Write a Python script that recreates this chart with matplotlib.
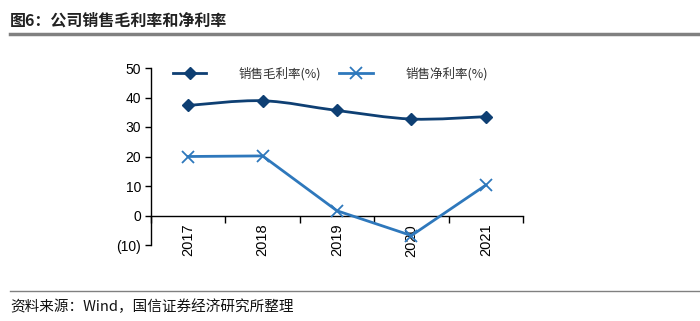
import matplotlib
matplotlib.use('Agg')
import matplotlib.pyplot as plt
from matplotlib.path import Path
from matplotlib.patches import PathPatch
from matplotlib.lines import Line2D

plt.rcParams['font.family'] = ['Noto Sans CJK SC', 'DejaVu Sans']

years = ['2017', '2018', '2019', '2020', '2021']
gross_margin = [37.3, 38.9, 35.6, 32.7, 33.5]
net_margin = [20.0, 20.2, 1.6, -6.8, 10.3]
y_ticks = [-10, 0, 10, 20, 30, 40, 50]
y_labels = ['(10)', '0', '10', '20', '30', '40', '50']

dark = '#0E3F73'
light = '#2E78BC'

fig = plt.figure(figsize=(7, 3.21), dpi=100)
ax = fig.add_axes([151 / 700, 76 / 321, 372 / 700, 177 / 321])

x = list(range(len(years)))


# smooth line like Excel's "smoothed line" (Catmull-Rom -> cubic bezier)
def smooth_path(xs, ys):
    verts = [(xs[0], ys[0])]
    codes = [Path.MOVETO]
    n = len(xs)
    for i in range(n - 1):
        p0 = (xs[max(i - 1, 0)], ys[max(i - 1, 0)])
        p1 = (xs[i], ys[i])
        p2 = (xs[i + 1], ys[i + 1])
        p3 = (xs[min(i + 2, n - 1)], ys[min(i + 2, n - 1)])
        c1 = (p1[0] + (p2[0] - p0[0]) / 6, p1[1] + (p2[1] - p0[1]) / 6)
        c2 = (p2[0] - (p3[0] - p1[0]) / 6, p2[1] - (p3[1] - p1[1]) / 6)
        verts += [c1, c2, p2]
        codes += [Path.CURVE4] * 3
    return Path(verts, codes)


ax.add_patch(PathPatch(smooth_path(x, gross_margin), fill=False,
                       edgecolor=dark, lw=2, zorder=3))
ax.plot(x, gross_margin, ls='none', marker='D', ms=6, color=dark, zorder=4)
ax.plot(x, net_margin, color=light, lw=2, marker='x', ms=8, mew=1.3, zorder=3)

ax.set_xlim(-0.5, 4.5)
ax.set_ylim(-10, 50)
ax.set_yticks(y_ticks)
ax.set_yticklabels(y_labels, family=['Liberation Sans'])
ax.tick_params(axis='y', direction='out', length=4, width=1, labelsize=10,
               pad=3, color='black', labelcolor='black')

ax.spines['top'].set_visible(False)
ax.spines['right'].set_visible(False)
ax.spines['bottom'].set_position(('data', 0))
ax.spines['left'].set_linewidth(1)
ax.spines['bottom'].set_linewidth(1)

ax.set_xticks(x)
ax.set_xticklabels(years, rotation=90, family=['Liberation Sans'])
ax.set_xticks([i + 0.5 for i in range(-1, 5)], minor=True)
ax.tick_params(axis='x', which='major', length=0, labelsize=10.5, pad=6,
               labelcolor='black')
ax.tick_params(axis='x', which='minor', length=5, width=1, direction='out')

handles = [
    Line2D([], [], color=dark, lw=2, marker='D', ms=6),
    Line2D([], [], color=light, lw=2, marker='x', ms=8, mew=1.3),
]
leg = ax.legend(handles, ['销售毛利率(%)', '销售净利率(%)'], ncol=2,
                frameon=False, fontsize=9, handlelength=2.7,
                handletextpad=2.6, columnspacing=1.4,
                loc='center left', bbox_to_anchor=(0.045, 0.97),
                borderaxespad=0)
for t in leg.get_texts():
    t.set_color('#333333')

# title and footer
fig.text(10 / 700, 1 - 21 / 321, '图6：公司销售毛利率和净利率', fontsize=11.5,
         fontweight='bold', color='#222222', va='center', ha='left')
fig.add_artist(Line2D([10 / 700, 1], [1 - 34 / 321] * 2, color='#808080',
                      lw=2.5, transform=fig.transFigure))
fig.add_artist(Line2D([10 / 700, 1], [1 - 291 / 321] * 2, color='#808080',
                      lw=1, transform=fig.transFigure))
fig.text(10 / 700, 1 - 307 / 321, '资料来源：Wind，国信证券经济研究所整理',
         fontsize=10.5, color='#111111', va='center', ha='left')

fig.savefig('out.png', dpi=100, facecolor='white')
